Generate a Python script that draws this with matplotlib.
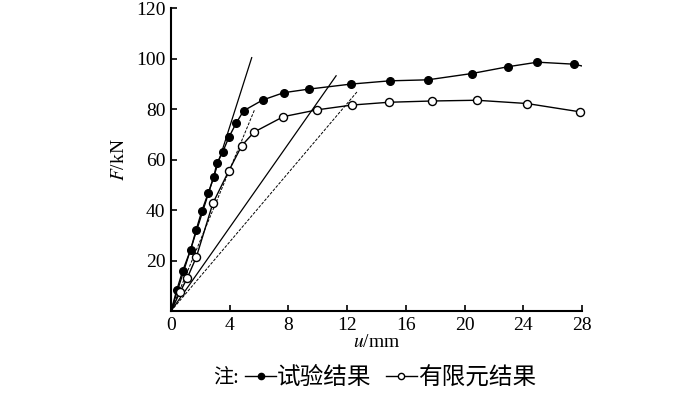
import numpy as np
import matplotlib.pyplot as plt
from matplotlib.lines import Line2D

plt.rcParams['font.family'] = ['Liberation Serif', 'Noto Sans CJK SC']
plt.rcParams['mathtext.fontset'] = 'stix'

# test results (filled)
u_test = [0.0, 0.4, 0.8, 1.33, 1.72, 2.1, 2.53, 2.92, 3.12, 3.53, 3.94, 4.44, 4.94,
          6.25, 7.68, 9.37, 12.25, 14.9, 17.5, 20.5, 22.97, 24.97, 27.47]
F_test = [0.0, 8.5, 16.0, 24.2, 32.3, 39.7, 46.7, 53.3, 58.6, 63.2, 68.9, 74.5, 79.4,
          83.7, 86.6, 88.0, 90.0, 91.3, 91.7, 94.2, 96.9, 98.7, 97.9]
# FE results (open)
u_fe = [0.0, 0.63, 1.1, 1.72, 2.85, 3.94, 4.82, 5.67, 7.66, 9.96, 12.34, 14.84,
        17.77, 20.83, 24.26, 27.87]
F_fe = [0.0, 7.7, 13.0, 21.3, 42.7, 55.6, 65.6, 71.0, 77.1, 79.8, 81.7, 82.8,
        83.3, 83.6, 82.3, 79.0]

# stiffness reference lines (end points from origin)
ref_solid_u = [5.5, 11.25]
ref_solid_F = [100.5, 93.3]
ref_dash_u = [5.69, 12.73]
ref_dash_F = [79.8, 87.3]

fig = plt.figure(figsize=(7, 3.96), dpi=100)
ax = fig.add_axes([0.2443, 0.2146, 0.587, 0.764])

for uu, ff in zip(ref_solid_u, ref_solid_F):
    ax.plot([0, uu], [0, ff], color='black', lw=0.9)
for uu, ff in zip(ref_dash_u, ref_dash_F):
    ax.plot([0, uu], [0, ff], color='black', lw=0.7, ls=(0, (3, 1.5)))

ax.plot(u_test + [28.0], F_test + [97.2], color='black', lw=1.0, marker='o',
        markersize=5.5, markerfacecolor='black', markevery=list(range(1, len(u_test))),
        clip_on=True)
ax.plot(u_fe, F_fe, color='black', lw=1.0, marker='o', markersize=5.8,
        markerfacecolor='white', markeredgewidth=1.0,
        markevery=list(range(1, len(u_fe))), clip_on=False, zorder=5)

ax.set_xlim(0, 28)
ax.set_ylim(0, 120)
ax.set_xticks(np.arange(0, 29, 4))
ax.set_yticks(np.arange(0, 121, 20))
ax.set_yticklabels(['', '20', '40', '60', '80', '100', '120'])
ax.spines['top'].set_visible(False)
ax.spines['right'].set_visible(False)
for s in ['left', 'bottom']:
    ax.spines[s].set_linewidth(1.5)
ax.tick_params(direction='in', length=4, width=1.2, labelsize=14, pad=4)
ax.set_xlabel('$u$/mm', fontsize=14, labelpad=0)
ax.set_ylabel('$F$/kN', fontsize=14, labelpad=6)

handles = [
    Line2D([0], [0], color='black', lw=1.0, marker='o', markersize=4.5, markerfacecolor='black'),
    Line2D([0], [0], color='black', lw=1.0, marker='o', markersize=4.5, markerfacecolor='white'),
]
fig.legend(handles, ['试验结果', '有限元结果'], ncol=2, loc='center',
           bbox_to_anchor=(0.558, 0.045), frameon=False, fontsize=17,
           handlelength=1.3, handletextpad=0.05, columnspacing=0.6)
fig.text(0.305, 0.045, '注:', fontsize=14.5, ha='left', va='center')

fig.savefig('out.png', dpi=100)
